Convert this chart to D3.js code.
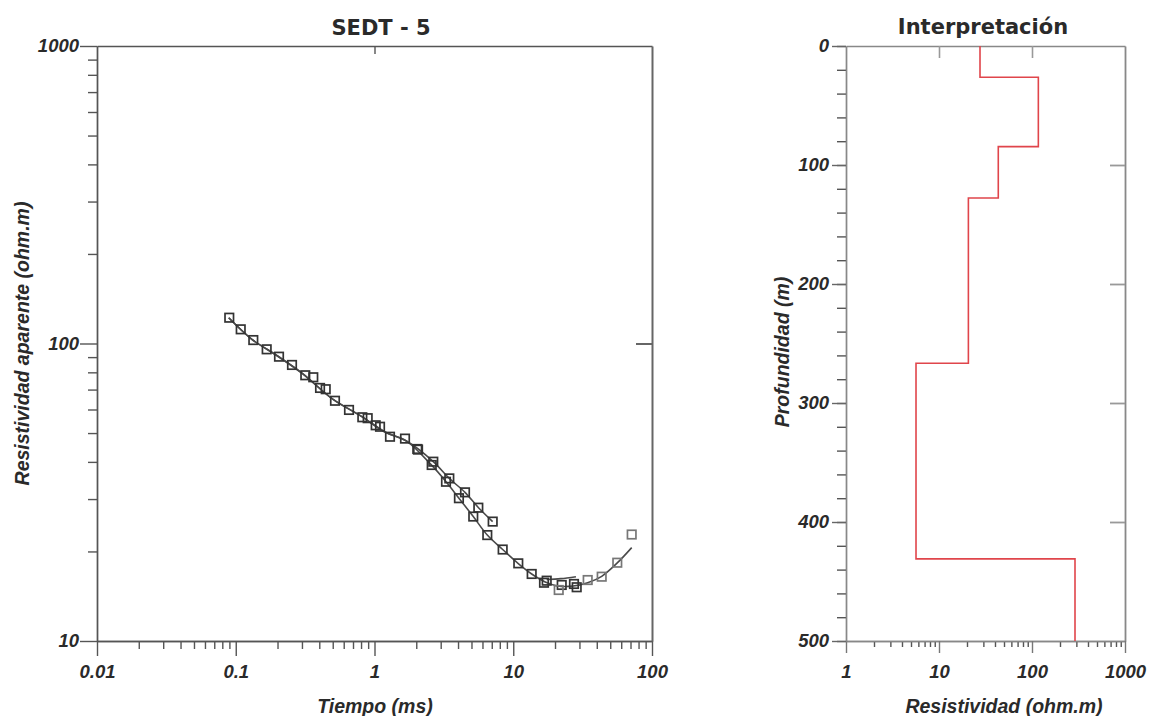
<!DOCTYPE html>
<html>
<head>
<meta charset="utf-8">
<script src="https://cdn.jsdelivr.net/npm/d3@7"></script>
<style>
  body { margin: 0; background: #fff; }
  svg { display: block; }
  text { font-family: "Liberation Sans", Arial, sans-serif; }
</style>
</head>
<body>
<svg id="chart" width="1153" height="716"></svg>
<script>
// ---------------- DATA ----------------
// Left chart: apparent resistivity vs time (two measured sets + late-time gray set)
const timeA = [0.0898, 0.1086, 0.1338, 0.1671, 0.205, 0.2543, 0.317, 0.405, 0.519, 0.655, 0.817, 1.02, 1.293, 2.034, 2.653, 3.461, 4.49, 5.60, 7.11];
const rhoA  = [122.1, 111.6, 102.7, 95.6, 90.3, 84.7, 78.2, 70.9, 64.2, 59.8, 56.5, 53.1, 48.6, 44.2, 40.06, 35.2, 31.6, 28.06, 25.2];
const timeB = [0.362, 0.445, 0.893, 1.096, 1.659, 2.06, 2.584, 3.275, 4.06, 5.15, 6.50, 8.39, 10.87, 13.58, 17.42, 16.66, 22.35, 27.4, 28.66];
const rhoB  = [77.0, 70.2, 56.1, 52.5, 47.9, 44.0, 39.05, 34.3, 30.2, 26.2, 22.7, 20.3, 18.24, 16.8, 15.95, 15.7, 15.43, 15.55, 15.16];
const timeC = [21.27, 34.4, 43.4, 56.2, 71.4];
const rhoC  = [14.84, 16.03, 16.45, 18.33, 22.8];
// fitted model curves
const modelTimeA = [0.089, 0.13, 0.2, 0.3, 0.5, 0.8, 1.2, 1.7, 2.65, 3.46, 4.49, 5.6, 7.1];
const modelRhoA  = [122, 103.5, 90.8, 79.5, 65, 57, 50.3, 47, 40.1, 35.2, 31.6, 28.1, 25.2];
const modelTimeB = [0.089, 0.13, 0.2, 0.3, 0.5, 0.8, 1.2, 1.7, 2.58, 3.28, 4.06, 5.15, 6.5, 8.39, 10.87, 13.58, 17, 21, 27, 34.4, 43.4, 56.2, 71.4];
const modelRhoB  = [122, 103.5, 90.8, 79.5, 65, 57, 50.3, 47, 39, 34.3, 30.2, 26.2, 22.7, 20.3, 18.2, 16.8, 15.8, 15.3, 15.3, 15.7, 16.5, 18.3, 20.6];
const modelTimeC = [17.4, 22, 28.3];
const modelRhoC  = [16.1, 16.2, 16.45];

const timeTicks = [0.01, 0.1, 1, 10, 100];
const timeTickLabels = ["0.01", "0.1", "1", "10", "100"];
const rhoAppTicks = [10, 100, 1000];
const rhoAppTickLabels = ["10", "100", "1000"];

// Right chart: layered interpretation
const layerTop = [0, 26.3, 84.6, 127.7, 266.6, 431];
const layerRes = [27.6, 117, 43.4, 20.7, 5.66, 290];
const maxDepth = 500;
const depthTicks = [0, 100, 200, 300, 400, 500];
const depthTickLabels = ["0", "100", "200", "300", "400", "500"];
const resTicks = [1, 10, 100, 1000];
const resTickLabels = ["1", "10", "100", "1000"];

const titleLeft = "SEDT - 5";
const titleRight = "Interpretación";
const xLabelLeft = "Tiempo (ms)";
const yLabelLeft = "Resistividad aparente (ohm.m)";
const xLabelRight = "Resistividad (ohm.m)";
const yLabelRight = "Profundidad (m)";

// ---------------- DRAW ----------------
const svg = d3.select("#chart");
const lblFont = "bold italic 18.5px 'Liberation Sans', Arial, sans-serif";
const axTitleFont = "bold italic 19.5px 'Liberation Sans', Arial, sans-serif";
const titleFont = "bold 21px 'DejaVu Sans', 'Liberation Sans', Arial, sans-serif";
const textCol = "#2a2a2a";

function minorLog(lo, hi) {
  const out = [];
  for (let e = Math.log10(lo); e < Math.log10(hi); e++) {
    for (let k = 2; k <= 9; k++) out.push(k * Math.pow(10, e));
  }
  return out;
}
function styleAxis(g, color, width) {
  g.selectAll("path").attr("stroke", color).attr("stroke-width", width);
  g.selectAll("line").attr("stroke", color).attr("stroke-width", width);
  g.selectAll("text").attr("fill", textCol).style("font", lblFont);
}

// ===== LEFT CHART =====
const x = d3.scaleLog().domain([0.01, 100]).range([97, 652]);
const y = d3.scaleLog().domain([10, 1000]).range([641, 46]);
const L = svg.append("g");

// minor bottom
L.append("g").attr("transform", `translate(0,${y(10)})`)
  .call(d3.axisBottom(x).tickValues(minorLog(0.01, 100)).tickSize(8).tickSizeOuter(0).tickFormat(""))
  .call(g => styleAxis(g, "#555", 1.4));
// major bottom
L.append("g").attr("transform", `translate(0,${y(10)})`)
  .call(d3.axisBottom(x).tickValues(timeTicks).tickSize(15).tickSizeOuter(0).tickPadding(9)
    .tickFormat((d, i) => timeTickLabels[i]))
  .call(g => styleAxis(g, "#555", 1.4));
// minor left
L.append("g").attr("transform", `translate(${x(0.01)},0)`)
  .call(d3.axisLeft(y).tickValues(minorLog(10, 1000)).tickSize(9).tickSizeOuter(0).tickFormat(""))
  .call(g => styleAxis(g, "#555", 1.4));
// major left
L.append("g").attr("transform", `translate(${x(0.01)},0)`)
  .call(d3.axisLeft(y).tickValues(rhoAppTicks).tickSize(17).tickSizeOuter(0).tickPadding(1)
    .tickFormat((d, i) => rhoAppTickLabels[i]))
  .call(g => styleAxis(g, "#555", 1.4));
// top border with inner ticks
L.append("g").attr("transform", `translate(0,${y(1000)})`)
  .call(d3.axisTop(x).tickValues([1]).tickSize(-8).tickSizeOuter(0).tickFormat(""))
  .call(g => styleAxis(g, "#555", 1.4));
// right border with inner tick
L.append("g").attr("transform", `translate(${x(100)},0)`)
  .call(d3.axisRight(y).tickValues([100]).tickSize(-16).tickSizeOuter(0).tickFormat(""))
  .call(g => styleAxis(g, "#666", 2));

// model lines
const lineL = d3.line().x(d => x(d[0])).y(d => y(d[1])).curve(d3.curveCatmullRom.alpha(0.5));
[[modelTimeA, modelRhoA], [modelTimeB, modelRhoB], [modelTimeC, modelRhoC]].forEach(([t, r]) => {
  L.append("path").datum(t.map((v, i) => [v, r[i]]))
    .attr("d", lineL).attr("fill", "none").attr("stroke", "#4a4a4a").attr("stroke-width", 1.6);
});
// markers
const sq = 8.5;
function drawSquares(t, r, color) {
  L.append("g").selectAll("rect").data(t.map((v, i) => [v, r[i]])).join("rect")
    .attr("x", d => x(d[0]) - sq / 2).attr("y", d => y(d[1]) - sq / 2)
    .attr("width", sq).attr("height", sq)
    .attr("fill", "none").attr("stroke", color).attr("stroke-width", 1.7);
}
drawSquares(timeA, rhoA, "#333");
drawSquares(timeB, rhoB, "#333");
drawSquares(timeC, rhoC, "#777");

L.append("text").attr("x", 381).attr("y", 35).attr("text-anchor", "middle")
  .style("font", titleFont).attr("fill", textCol).text(titleLeft);
L.append("text").attr("x", 375).attr("y", 713).attr("text-anchor", "middle")
  .style("font", axTitleFont).attr("fill", textCol).text(xLabelLeft);
L.append("text").attr("transform", `translate(29,${(y(10) + y(1000)) / 2}) rotate(-90)`).attr("text-anchor", "middle")
  .style("font", axTitleFont).attr("fill", textCol).text(yLabelLeft);

// ===== RIGHT CHART =====
const xr = d3.scaleLog().domain([1, 1000]).range([846, 1125]);
const yr = d3.scaleLinear().domain([0, maxDepth]).range([46, 641]);
const R = svg.append("g");

// top border with inner ticks
R.append("g").attr("transform", `translate(0,${yr(0)})`)
  .call(d3.axisTop(xr).tickValues([10, 100]).tickSize(-12).tickSizeOuter(0).tickFormat(""))
  .call(g => styleAxis(g, "#999", 1.6));
// right border with inner ticks
R.append("g").attr("transform", `translate(${xr(1000)},0)`)
  .call(d3.axisRight(yr).tickValues([100, 200, 300, 400]).tickSize(-15).tickSizeOuter(0).tickFormat(""))
  .call(g => styleAxis(g, "#999", 1.8));
// bottom minor
R.append("g").attr("transform", `translate(0,${yr(maxDepth)})`)
  .call(d3.axisBottom(xr).tickValues(minorLog(1, 1000)).tickSize(6).tickSizeOuter(0).tickFormat(""))
  .call(g => styleAxis(g, "#555", 1.4));
// bottom major
R.append("g").attr("transform", `translate(0,${yr(maxDepth)})`)
  .call(d3.axisBottom(xr).tickValues(resTicks).tickSize(12).tickSizeOuter(0).tickPadding(12)
    .tickFormat((d, i) => resTickLabels[i]))
  .call(g => styleAxis(g, "#777", 1.4));
// left minor
R.append("g").attr("transform", `translate(${xr(1)},0)`)
  .call(d3.axisLeft(yr).tickValues(d3.range(0, maxDepth + 1, 20)).tickSize(9).tickSizeOuter(0).tickFormat(""))
  .call(g => styleAxis(g, "#555", 1.4));
// left major
R.append("g").attr("transform", `translate(${xr(1)},0)`)
  .call(d3.axisLeft(yr).tickValues(depthTicks).tickSize(14).tickSizeOuter(0).tickPadding(3)
    .tickFormat((d, i) => depthTickLabels[i]))
  .call(g => styleAxis(g, "#666", 1.4));
R.selectAll(".domain").attr("stroke", "#888");

// step profile
const profile = [];
layerRes.forEach((r, i) => {
  const bot = i + 1 < layerTop.length ? layerTop[i + 1] : maxDepth;
  profile.push([r, layerTop[i]], [r, bot]);
});
R.append("path").datum(profile)
  .attr("d", d3.line().x(d => xr(d[0])).y(d => yr(d[1])))
  .attr("fill", "none").attr("stroke", "#e0454b").attr("stroke-width", 1.6);

R.append("text").attr("x", 983).attr("y", 34).attr("text-anchor", "middle")
  .style("font", titleFont).attr("fill", textCol).text(titleRight);
R.append("text").attr("x", 1004).attr("y", 713).attr("text-anchor", "middle")
  .style("font", axTitleFont).attr("fill", textCol).text(xLabelRight);
R.append("text").attr("transform", `translate(789,352) rotate(-90)`).attr("text-anchor", "middle")
  .style("font", axTitleFont).attr("fill", textCol).text(yLabelRight);
</script>
</body>
</html>
